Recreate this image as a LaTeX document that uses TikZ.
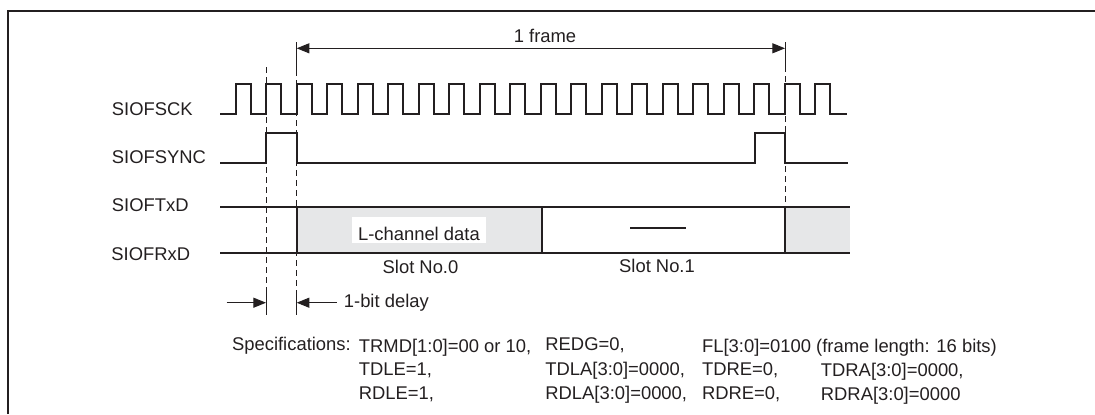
\documentclass[tikz,border=0pt]{standalone}
\usepackage{fontspec}
\setmainfont{Liberation Sans}
\usetikzlibrary{arrows.meta}
\definecolor{ink}{HTML}{231F20}
\definecolor{slotgray}{HTML}{E6E7E8}
\tikzset{
  wave/.style={draw=ink, line width=1pt, line join=miter},
  dataline/.style={draw=ink, line width=1pt},
  guide/.style={draw=ink, line width=0.5pt, dash pattern=on 3pt off 2pt},
  tick/.style={draw=ink, line width=0.5pt},
  dim/.style={draw=ink, line width=0.5pt, -{Triangle[length=6.3pt,width=5pt]}},
  lbl/.style={anchor=base west, inner sep=0pt, text=ink, font=\fontsize{9.2}{11}\selectfont},
  ctr/.style={anchor=base, inner sep=0pt, text=ink, font=\fontsize{9.2}{11}\selectfont},
}
\begin{document}
\begin{tikzpicture}[x=0.5pt, y=-0.5pt]
\useasboundingbox (0,0) rectangle (1095,414);
% frame border (top and left)
\draw[ink, line width=1.15pt] (8,414) -- (8,11) -- (1096,11);

% signal labels
\node[lbl] (lsck) at (111.5,115) {SIOFSCK};
\node[lbl] (lsync) at (111.5,163.3) {SIOFSYNC};
\node[lbl] (ltx) at (111.5,211.6) {SIOFTxD};
\node[lbl] (lrx) at (111,260) {SIOFRxD};

% clock
\draw[wave] (220,114) foreach \k in {-2,...,17} {
  -- ({296.7+30.5*\k},114) -- ({296.7+30.5*\k},84.3)
  -- ({296.7+30.5*\k+15.25},84.3) -- ({296.7+30.5*\k+15.25},114) } -- (847,114);

% sync
\draw[wave] (220,163.3) -- (266,163.3) -- (266,133) -- (296.7,133) -- (296.7,163.3)
  -- (754.5,163.3) -- (754.5,133) -- (785,133) -- (785,163.3) -- (848,163.3);

% data slots
\fill[slotgray] (296.7,207) rectangle (542,252.5);
\fill[slotgray] (785,207) rectangle (850,252.5);
\draw[dataline] (220,207) -- (850,207);
\draw[dataline] (220,252.5) -- (850,252.5);
\draw[dataline] (296.7,207) -- (296.7,252.5);
\draw[dataline] (542,207) -- (542,252.5);
\draw[dataline] (785,207) -- (785,252.5);
\draw[dataline] (630,228.3) -- (686,228.3);
\node[fill=white, inner sep=0pt, minimum width=67.2pt, minimum height=13.3pt] (lbox) at (418.9,230) {};
\node[ctr] (ltext) at (418.9,240) {L-channel data};
\node[ctr] (slot0) at (420.5,273) {Slot No.0};
\node[ctr] (slot1) at (657,272.5) {Slot No.1};

% guide lines
\coordinate (ga1) at (266,67);
\coordinate (ga2) at (266,290);
\coordinate (ga3) at (266,315);
\coordinate (gb0) at (296.7,42);
\coordinate (gb1) at (296.7,70);
\coordinate (gb2) at (296.7,290);
\coordinate (gb3) at (296.7,315);
\coordinate (gc0) at (785,42);
\coordinate (gc1) at (785,66);
\coordinate (gc2) at (785,207);
\draw[guide] (ga1) -- (ga2);
\draw[tick] (ga2) -- (ga3);
\draw[tick] (gb0) -- (gb1);
\draw[guide] (gb1) -- (gb2);
\draw[tick] (gb2) -- (gb3);
\draw[tick] (gc0) -- (gc1);
\draw[guide] (gc1) -- (gc2);

% 1 frame dimension
\coordinate (fl) at (296.7,48.3);
\coordinate (fr) at (785,48.3);
\draw[dim, {Triangle[length=6.3pt,width=5pt]}-{Triangle[length=6.3pt,width=5pt]}] (fl) -- (fr);
\node[ctr] (frame) at (545,42.5) {1 frame};

% 1-bit delay
\coordinate (da) at (226.7,302.7);
\coordinate (db) at (266,302.7);
\coordinate (dc) at (336.7,302.7);
\coordinate (dd) at (296.7,302.7);
\draw[dim] (da) -- (db);
\draw[dim] (dc) -- (dd);
\node[lbl] (delay) at (343.5,307.5) {1-bit delay};

% specifications
\node[lbl] (spec) at (231.7,350) {Specifications:};
\node[lbl] (s11) at (358.5,352) {TRMD[1:0]=00 or 10,};
\node[lbl] (s12) at (358.5,375.5) {TDLE=1,};
\node[lbl] (s13) at (358.5,399) {RDLE=1,};
\node[lbl] (s21) at (545,350.5) {REDG=0,};
\node[lbl] (s22) at (545,375.5) {TDLA[3:0]=0000,};
\node[lbl] (s23) at (545,399) {RDLA[3:0]=0000,};
\node[lbl] (s31) at (701.7,352) {FL[3:0]=0100 (frame length: 16 bits)};
\node[lbl] (s32) at (701.7,375.5) {TDRE=0,};
\node[lbl] (s33) at (701.7,399) {RDRE=0,};
\node[lbl] (s42) at (820.5,376.5) {TDRA[3:0]=0000,};
\node[lbl] (s43) at (820.5,400) {RDRA[3:0]=0000};
\end{tikzpicture}
\end{document}
